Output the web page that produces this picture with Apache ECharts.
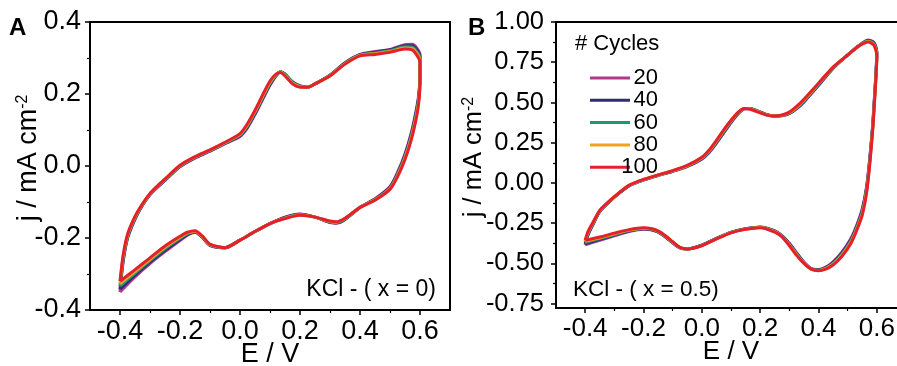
<!DOCTYPE html>
<html>
<head>
<meta charset="utf-8">
<script src="https://cdn.jsdelivr.net/npm/echarts@6/dist/echarts.min.js"></script>
<style>
  html, body { margin: 0; padding: 0; background: #fff; }
  #chart { width: 897px; height: 366px; }
</style>
</head>
<body>
<div id="chart"></div>
<script>
// cycle numbers and line colours
const cycles = ['20', '40', '60', '80', '100'];
const cycleColors = ['#b4388e', '#2c2c7a', '#1d9a6c', '#f0a223', '#e3202b'];

// tick positions
const xMajor = [-0.4, -0.2, 0, 0.2, 0.4, 0.6];
const xMinor = [-0.3, -0.1, 0.1, 0.3, 0.5];
const yMajorA = [-0.4, -0.2, 0, 0.2, 0.4];
const yMinorA = [-0.3, -0.1, 0.1, 0.3];
const yMajorB = [-0.75, -0.5, -0.25, 0, 0.25, 0.5, 0.75, 1.0];
const yMinorB = [-0.625, -0.375, -0.125, 0.125, 0.375, 0.625, 0.875];

// ---- panel A : KCl (x = 0) ----  potential, forward scan then reverse scan
const eA = [
  -0.4, -0.39, -0.375, -0.35, -0.325, -0.3, -0.275, -0.25, -0.2, -0.15, -0.1, -0.05, 0.0,
  0.025, 0.05, 0.075, 0.1, 0.12, 0.135, 0.15, 0.175, 0.2, 0.225, 0.25, 0.3, 0.35, 0.4,
  0.45, 0.5, 0.55, 0.575, 0.59, 0.6,
  0.6, 0.595, 0.585, 0.57, 0.55, 0.525, 0.5, 0.45, 0.4, 0.35, 0.32, 0.3, 0.25, 0.2,
  0.15, 0.1, 0.05, 0.0, -0.05, -0.1, -0.125, -0.15, -0.175, -0.2, -0.25, -0.3, -0.35, -0.4
];
const jA20 = [
  -0.35, -0.27, -0.202, -0.148, -0.109, -0.08, -0.059, -0.04, -0.002, 0.022, 0.041, 0.062, 0.082,
  0.106, 0.143, 0.184, 0.224, 0.25, 0.262, 0.256, 0.234, 0.223, 0.219, 0.228, 0.253, 0.287, 0.31,
  0.318, 0.324, 0.337, 0.338, 0.327, 0.31,
  0.254, 0.194, 0.146, 0.09, 0.034, -0.018, -0.057, -0.091, -0.115, -0.149, -0.159, -0.157, -0.142, -0.133,
  -0.142, -0.16, -0.182, -0.206, -0.227, -0.221, -0.199, -0.184, -0.192, -0.207, -0.238, -0.271, -0.308, -0.35
];
const jA40 = [
  -0.342, -0.265, -0.199, -0.146, -0.108, -0.079, -0.058, -0.039, -0.001, 0.023, 0.042, 0.063, 0.084,
  0.109, 0.146, 0.187, 0.227, 0.251, 0.262, 0.255, 0.233, 0.222, 0.219, 0.228, 0.252, 0.286, 0.309,
  0.316, 0.322, 0.334, 0.334, 0.322, 0.305,
  0.248, 0.188, 0.14, 0.085, 0.03, -0.021, -0.059, -0.092, -0.115, -0.148, -0.158, -0.156, -0.142, -0.134,
  -0.143, -0.16, -0.182, -0.206, -0.227, -0.22, -0.198, -0.183, -0.19, -0.204, -0.234, -0.267, -0.303, -0.342
];
const jA60 = [
  -0.334, -0.26, -0.196, -0.144, -0.107, -0.078, -0.057, -0.038, 0.0, 0.024, 0.043, 0.064, 0.086,
  0.112, 0.149, 0.19, 0.23, 0.253, 0.262, 0.254, 0.232, 0.221, 0.219, 0.228, 0.252, 0.285, 0.308,
  0.314, 0.32, 0.331, 0.33, 0.317, 0.3,
  0.242, 0.182, 0.134, 0.08, 0.026, -0.024, -0.061, -0.093, -0.115, -0.147, -0.157, -0.155, -0.142, -0.135,
  -0.144, -0.16, -0.182, -0.206, -0.227, -0.219, -0.197, -0.182, -0.188, -0.201, -0.23, -0.263, -0.298, -0.334
];
const jA80 = [
  -0.327, -0.255, -0.193, -0.142, -0.106, -0.077, -0.056, -0.037, 0.001, 0.025, 0.044, 0.065, 0.088,
  0.115, 0.152, 0.193, 0.233, 0.254, 0.261, 0.252, 0.23, 0.22, 0.219, 0.228, 0.251, 0.284, 0.307,
  0.312, 0.318, 0.328, 0.326, 0.312, 0.295,
  0.236, 0.176, 0.128, 0.075, 0.022, -0.027, -0.063, -0.094, -0.115, -0.146, -0.156, -0.154, -0.142, -0.136,
  -0.145, -0.16, -0.182, -0.206, -0.227, -0.218, -0.196, -0.181, -0.186, -0.198, -0.226, -0.259, -0.293, -0.327
];
const jA100 = [
  -0.32, -0.25, -0.19, -0.14, -0.105, -0.076, -0.055, -0.036, 0.002, 0.026, 0.045, 0.066, 0.09,
  0.118, 0.155, 0.197, 0.236, 0.255, 0.26, 0.25, 0.228, 0.219, 0.219, 0.228, 0.25, 0.283, 0.306,
  0.31, 0.316, 0.325, 0.322, 0.307, 0.29,
  0.23, 0.17, 0.122, 0.07, 0.018, -0.03, -0.065, -0.095, -0.115, -0.145, -0.155, -0.153, -0.142, -0.137,
  -0.146, -0.16, -0.182, -0.206, -0.227, -0.217, -0.195, -0.18, -0.184, -0.195, -0.222, -0.255, -0.288, -0.32
];

// ---- panel B : KCl (x = 0.5) ----
const eB = [
  -0.4, -0.39, -0.375, -0.35, -0.325, -0.3, -0.25, -0.2, -0.15, -0.1, -0.05, 0.0, 0.025,
  0.05, 0.075, 0.1, 0.125, 0.145, 0.165, 0.2, 0.225, 0.25, 0.275, 0.3, 0.325, 0.35, 0.4,
  0.45, 0.5, 0.54, 0.57, 0.59, 0.6,
  0.597, 0.592, 0.586, 0.576, 0.565, 0.55, 0.532, 0.51, 0.48, 0.45, 0.425, 0.4, 0.375, 0.35,
  0.325, 0.3, 0.275, 0.25, 0.2, 0.15, 0.1, 0.05, 0.0, -0.05, -0.075, -0.1, -0.125, -0.15,
  -0.175, -0.2, -0.25, -0.3, -0.35, -0.4
];
const jB20 = [
  -0.385, -0.324, -0.266, -0.178, -0.131, -0.089, -0.019, 0.018, 0.046, 0.072, 0.102, 0.148, 0.188,
  0.246, 0.31, 0.374, 0.43, 0.46, 0.463, 0.441, 0.424, 0.416, 0.418, 0.43, 0.46, 0.502, 0.605,
  0.712, 0.795, 0.856, 0.888, 0.874, 0.815,
  0.69, 0.54, 0.37, 0.16, -0.02, -0.16, -0.258, -0.348, -0.43, -0.49, -0.523, -0.538, -0.532, -0.492,
  -0.434, -0.374, -0.327, -0.297, -0.274, -0.284, -0.306, -0.344, -0.386, -0.41, -0.404, -0.373, -0.336, -0.306,
  -0.291, -0.287, -0.302, -0.328, -0.356, -0.385
];
const jB40 = [
  -0.378, -0.318, -0.262, -0.176, -0.13, -0.088, -0.018, 0.019, 0.047, 0.073, 0.104, 0.151, 0.192,
  0.25, 0.315, 0.378, 0.433, 0.461, 0.462, 0.44, 0.423, 0.416, 0.419, 0.432, 0.463, 0.506, 0.608,
  0.714, 0.795, 0.855, 0.885, 0.87, 0.808,
  0.68, 0.53, 0.36, 0.15, -0.03, -0.17, -0.266, -0.356, -0.436, -0.495, -0.526, -0.54, -0.533, -0.494,
  -0.438, -0.378, -0.329, -0.299, -0.275, -0.285, -0.307, -0.345, -0.387, -0.41, -0.403, -0.371, -0.334, -0.304,
  -0.289, -0.285, -0.299, -0.324, -0.351, -0.378
];
const jB60 = [
  -0.37, -0.312, -0.258, -0.174, -0.128, -0.087, -0.017, 0.02, 0.048, 0.075, 0.106, 0.154, 0.196,
  0.255, 0.32, 0.382, 0.436, 0.462, 0.462, 0.439, 0.422, 0.416, 0.42, 0.434, 0.466, 0.51, 0.612,
  0.716, 0.795, 0.854, 0.882, 0.865, 0.8,
  0.67, 0.52, 0.35, 0.14, -0.04, -0.18, -0.274, -0.364, -0.443, -0.5, -0.529, -0.542, -0.534, -0.496,
  -0.442, -0.382, -0.331, -0.301, -0.276, -0.286, -0.308, -0.346, -0.388, -0.41, -0.402, -0.369, -0.332, -0.302,
  -0.287, -0.283, -0.296, -0.32, -0.346, -0.37
];
const jB80 = [
  -0.363, -0.306, -0.254, -0.172, -0.127, -0.086, -0.016, 0.021, 0.049, 0.076, 0.108, 0.157, 0.2,
  0.26, 0.325, 0.386, 0.438, 0.462, 0.46, 0.437, 0.421, 0.416, 0.421, 0.437, 0.47, 0.515, 0.616,
  0.718, 0.795, 0.853, 0.879, 0.86, 0.792,
  0.66, 0.51, 0.34, 0.13, -0.05, -0.19, -0.282, -0.372, -0.45, -0.505, -0.532, -0.544, -0.535, -0.498,
  -0.446, -0.386, -0.333, -0.303, -0.277, -0.287, -0.309, -0.347, -0.389, -0.41, -0.401, -0.367, -0.33, -0.3,
  -0.285, -0.281, -0.293, -0.316, -0.341, -0.363
];
const jB100 = [
  -0.356, -0.3, -0.25, -0.17, -0.125, -0.085, -0.015, 0.022, 0.05, 0.077, 0.11, 0.16, 0.205,
  0.265, 0.33, 0.39, 0.44, 0.462, 0.458, 0.435, 0.42, 0.416, 0.422, 0.44, 0.475, 0.52, 0.62,
  0.72, 0.795, 0.852, 0.876, 0.855, 0.785,
  0.65, 0.5, 0.33, 0.12, -0.06, -0.2, -0.29, -0.38, -0.457, -0.51, -0.535, -0.545, -0.535, -0.5,
  -0.45, -0.39, -0.335, -0.305, -0.278, -0.288, -0.31, -0.348, -0.39, -0.41, -0.4, -0.365, -0.328, -0.298,
  -0.283, -0.279, -0.29, -0.312, -0.336, -0.356
];

const jAll = {
  A: [jA20, jA40, jA60, jA80, jA100],
  B: [jB20, jB40, jB60, jB80, jB100]
};

function pairs(e, j) {
  return e.map((x, i) => [x, j[i]]);
}

const font = 'Liberation Sans, Arial, sans-serif';

function xAxes(grid, fs) {
  return [
    {
      gridIndex: grid, type: 'value', position: 'bottom', min: -0.5, max: 0.7,
      axisLine: { show: true, onZero: false, lineStyle: { color: '#000', width: 2 } },
      axisTick: { show: true, customValues: xMajor, length: 5, lineStyle: { color: '#000', width: 1.5 } },
      axisLabel: { customValues: xMajor, formatter: v => v.toFixed(1), fontSize: fs, color: '#000', margin: 8, fontFamily: font },
      splitLine: { show: false },
      name: 'E / V', nameLocation: 'middle', nameGap: 31, nameMoveOverlap: false,
      nameTextStyle: { fontSize: fs, color: '#000', fontFamily: font }
    },
    {
      gridIndex: grid, type: 'value', position: 'bottom', min: -0.5, max: 0.7,
      axisLine: { show: false, onZero: false },
      axisTick: { show: true, customValues: xMinor, length: 3, lineStyle: { color: '#000', width: 1.2 } },
      axisLabel: { show: false },
      splitLine: { show: false }
    }
  ];
}

function yAxes(grid, min, max, major, minor, digits, gap, margin, fs) {
  return [
    {
      gridIndex: grid, type: 'value', position: 'left', min: min, max: max,
      axisLine: { show: true, onZero: false, lineStyle: { color: '#000', width: 2 } },
      axisTick: { show: true, customValues: major, length: 5, lineStyle: { color: '#000', width: 1.5 } },
      axisLabel: { customValues: major, formatter: v => v.toFixed(digits), fontSize: fs, color: '#000', margin: margin, fontFamily: font },
      splitLine: { show: false },
      name: 'j / mA cm{sup|-2}', nameLocation: 'middle', nameGap: gap, nameMoveOverlap: false,
      nameTextStyle: {
        fontSize: fs, color: '#000', fontFamily: font, padding: [0, 0, 0, 16],
        rich: { sup: { fontSize: 16, color: '#000', fontFamily: font, verticalAlign: 'top' } }
      }
    },
    {
      gridIndex: grid, type: 'value', position: 'left', min: min, max: max,
      axisLine: { show: false, onZero: false },
      axisTick: { show: true, customValues: minor, length: 3, lineStyle: { color: '#000', width: 1.2 } },
      axisLabel: { show: false },
      splitLine: { show: false }
    }
  ];
}

const series = [];
['A', 'B'].forEach((panel, p) => {
  const e = panel === 'A' ? eA : eB;
  cycles.forEach((c, k) => {
    series.push({
      name: c,
      type: 'line',
      xAxisIndex: p * 2,
      yAxisIndex: p * 2,
      data: pairs(e, jAll[panel][k]),
      symbol: 'none',
      smooth: 0.25,
      color: cycleColors[k],
      lineStyle: { width: 3, color: cycleColors[k] }
    });
  });
});

const chart = echarts.init(document.getElementById('chart'), null, { renderer: 'canvas' });
chart.setOption({
  animation: false,
  backgroundColor: '#fff',
  textStyle: { fontFamily: font, color: '#000' },
  grid: [
    { left: 90, top: 22, width: 360, height: 288, show: true, borderColor: '#000', borderWidth: 2, containLabel: false, outerBoundsMode: 'none' },
    { left: 556, top: 22, width: 350, height: 286, show: true, borderColor: '#000', borderWidth: 2, containLabel: false, outerBoundsMode: 'none' }
  ],
  xAxis: [...xAxes(0, 27), ...xAxes(1, 26)],
  yAxis: [
    ...yAxes(0, -0.4, 0.4, yMajorA, yMinorA, 1, 48, 9, 27),
    ...yAxes(1, -0.777, 1.0, yMajorB, yMinorB, 2, 69, 12, 25.5)
  ],
  legend: {
    data: cycles,
    orient: 'vertical',
    left: 585,
    top: 62,
    icon: 'rect',
    itemWidth: 40,
    itemHeight: 3,
    itemGap: 0.3,
    selectedMode: false,
    formatter: name => '{r|' + name + '}',
    textStyle: {
      fontSize: 22, color: '#000', fontFamily: font, lineHeight: 21,
      rich: { r: { width: 23, align: 'right', fontSize: 22, lineHeight: 21, fontFamily: font } }
    }
  },
  graphic: [
    { type: 'text', left: 9, top: 16, style: { text: 'A', font: 'bold 24px ' + font, fill: '#000' } },
    { type: 'text', left: 468, top: 16, style: { text: 'B', font: 'bold 24px ' + font, fill: '#000' } },
    { type: 'text', left: 575, top: 33, style: { text: '# Cycles', font: '22px ' + font, fill: '#000' } },
    { type: 'text', right: 897 - 436, top: 278, style: { text: 'KCl - ( x = 0)', font: '23px ' + font, fill: '#000' } },
    { type: 'text', left: 573, top: 278, style: { text: 'KCl - ( x = 0.5)', font: '22.5px ' + font, fill: '#000' } }
  ],
  series: series
});
</script>
</body>
</html>
